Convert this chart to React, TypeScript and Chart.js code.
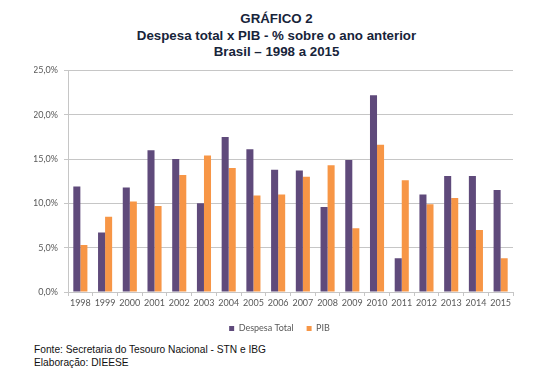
import React, { useEffect, useRef } from "react";
import { Chart, registerables } from "chart.js";

Chart.register(...registerables);

const years = [
  "1998", "1999", "2000", "2001", "2002", "2003", "2004", "2005", "2006",
  "2007", "2008", "2009", "2010", "2011", "2012", "2013", "2014", "2015",
];
const despesaTotal = [11.9, 6.7, 11.8, 16.0, 15.0, 10.0, 17.5, 16.1, 13.8, 13.7, 9.6, 14.9, 22.2, 3.8, 11.0, 13.1, 13.1, 11.5];
const pib = [5.3, 8.5, 10.2, 9.7, 13.2, 15.4, 14.0, 10.9, 11.0, 13.0, 14.3, 7.2, 16.6, 12.6, 9.9, 10.6, 7.0, 3.8];
const yMin = 0;
const yMax = 25;
const yStep = 5;

const titleLines = ["GRÁFICO 2", "Despesa total x PIB - % sobre o ano anterior", "Brasil – 1998 a 2015"];
const footerLines = ["Fonte: Secretaria do Tesouro Nacional - STN e IBG", "Elaboração: DIEESE"];

const axisFont = { family: "Lato, 'DejaVu Sans', sans-serif", size: 9 };
const axisColor = "#595959";
const gridColor = "#C6C6C6";

export default function App() {
  const ref = useRef<HTMLCanvasElement | null>(null);

  useEffect(() => {
    if (!ref.current) return;
    const chart = new Chart(ref.current, {
      type: "bar",
      data: {
        labels: years,
        datasets: [
          {
            label: "Despesa Total",
            data: despesaTotal,
            backgroundColor: "#5F4A7B",
            borderWidth: 0,
            categoryPercentage: 0.57,
            barPercentage: 1,
            yAxisID: "y",
          },
          {
            label: "PIB",
            data: pib,
            backgroundColor: "#F79646",
            borderWidth: 0,
            categoryPercentage: 0.57,
            barPercentage: 1,
            yAxisID: "y",
          },
        ],
      },
      options: {
        animation: false,
        responsive: true,
        maintainAspectRatio: false,
        layout: { padding: { top: 7, right: 28, left: 34, bottom: 0 } },
        plugins: {
          tooltip: { enabled: false },
          title: { display: false },
          legend: {
            position: "bottom",
            labels: {
              boxWidth: 5,
              boxHeight: 5,
              padding: 13,
              font: axisFont,
              color: axisColor,
            },
          },
        },
        scales: {
          x: {
            grid: {
              display: true,
              offset: true,
              drawOnChartArea: false,
              tickLength: 4,
              color: gridColor,
            },
            border: { display: true, color: gridColor },
            ticks: {
              font: axisFont,
              color: axisColor,
              padding: 2,
              maxRotation: 0,
              autoSkip: false,
            },
            afterFit: (scale: any) => {
              scale.height = 19;
            },
          },
          y: {
            position: "left",
            min: yMin,
            max: yMax,
            grid: { color: gridColor, tickLength: 4 },
            border: { display: true, color: gridColor },
            ticks: {
              stepSize: yStep,
              font: axisFont,
              color: axisColor,
              padding: 6,
              callback: (v: any) => Number(v).toFixed(1).replace(".", ",") + "%",
            },
            afterFit: (scale: any) => {
              scale.width = 34;
            },
          },
          yRight: {
            position: "right",
            display: true,
            min: yMin,
            max: yMax,
            grid: { display: false },
            border: { display: false },
            ticks: { display: false },
            afterFit: (scale: any) => {
              scale.width = 12;
            },
          },
        },
      },
    });
    return () => chart.destroy();
  }, []);

  return (
    <div
      style={{
        position: "fixed",
        left: 0,
        top: 0,
        width: 553,
        height: 375,
        background: "#fff",
        overflow: "hidden",
      }}
    >
      <div
        style={{
          position: "absolute",
          top: 11,
          left: 0,
          width: 553,
          textAlign: "center",
          fontFamily: "'Liberation Sans', Arial, sans-serif",
          fontWeight: "bold",
          fontSize: 13.3,
          lineHeight: "16.5px",
          color: "#17243A",
        }}
      >
        {titleLines.map((t) => (
          <div key={t}>{t}</div>
        ))}
      </div>
      <div style={{ position: "absolute", top: 59, left: 0, width: 553, height: 284 }}>
        <canvas ref={ref} />
      </div>
      <div
        style={{
          position: "absolute",
          top: 343,
          left: 34,
          fontFamily: "'Liberation Sans', Arial, sans-serif",
          fontSize: 10.2,
          lineHeight: "13px",
          color: "#111",
        }}
      >
        {footerLines.map((t) => (
          <div key={t}>{t}</div>
        ))}
      </div>
    </div>
  );
}
